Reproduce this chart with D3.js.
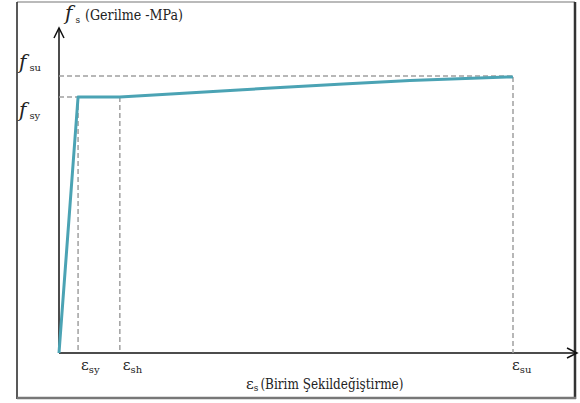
<!DOCTYPE html>
<html>
<head>
<meta charset="utf-8">
<script src="https://cdn.jsdelivr.net/npm/d3@7"></script>
<style>
  body { margin: 0; background: #fff; }
</style>
</head>
<body>
<script>
// strain (mm/mm) and stress (MPa)
var strain = [0, 0.0042, 0.0134, 0.0405, 0.0626, 0.0773, 0.1];
var stress = [0, 420, 420, 432, 441.5, 447, 453];
var epsSy = 0.0042, epsSh = 0.0134, epsSu = 0.1;
var fy = 420, fu = 453;
var xLabels = [{v: epsSy, sub: "sy"}, {v: epsSh, sub: "sh"}, {v: epsSu, sub: "su"}];
var yLabels = [{v: fu, sub: "su"}, {v: fy, sub: "sy"}];

var W = 580, H = 403;
var svg = d3.select("body").append("svg")
    .attr("width", W)
    .attr("height", H)
    .style("font-family", "DejaVu Serif");

// frame around the figure
svg.append("line").attr("x1", 17).attr("y1", 2).attr("x2", 575).attr("y2", 2)
    .attr("stroke", "#777").attr("stroke-width", 1.2);
svg.append("line").attr("x1", 17).attr("y1", 2).attr("x2", 17).attr("y2", 399)
    .attr("stroke", "#222").attr("stroke-width", 1.5);
svg.append("line").attr("x1", 575).attr("y1", 2).attr("x2", 575).attr("y2", 399)
    .attr("stroke", "#333").attr("stroke-width", 2.5);
svg.append("line").attr("x1", 17).attr("y1", 398).attr("x2", 576).attr("y2", 398)
    .attr("stroke", "#777").attr("stroke-width", 2.5);

var x0 = 59, y0 = 353;
var x = d3.scaleLinear().domain([0, 0.1]).range([x0, 513]);
var y = d3.scaleLinear().domain([0, 420]).range([y0, 97]);

// axes with open arrow heads
svg.append("line").attr("x1", x0).attr("y1", y0).attr("x2", x0).attr("y2", 28)
    .attr("stroke", "#111").attr("stroke-width", 1.5);
svg.append("path").attr("d", "M" + (x0 - 5) + ",38 L" + x0 + ",28 L" + (x0 + 5) + ",38")
    .attr("fill", "none").attr("stroke", "#111").attr("stroke-width", 1.5);
svg.append("line").attr("x1", x0).attr("y1", y0).attr("x2", 576).attr("y2", y0)
    .attr("stroke", "#111").attr("stroke-width", 1.5);
svg.append("path").attr("d", "M567," + (y0 - 5) + " L577," + y0 + " L567," + (y0 + 5))
    .attr("fill", "none").attr("stroke", "#111").attr("stroke-width", 1.5);

// dashed guide lines
var dash = svg.append("g")
    .attr("stroke", "#a0a0a0")
    .attr("stroke-width", 1.5)
    .attr("stroke-dasharray", "5,3")
    .attr("fill", "none");
dash.append("line").attr("x1", x0).attr("x2", x(epsSy)).attr("y1", y(fy)).attr("y2", y(fy));
dash.append("line").attr("x1", x0).attr("x2", x(epsSu)).attr("y1", y(fu) - 1).attr("y2", y(fu) - 1);
[epsSy, epsSh].forEach(function(e) {
    dash.append("line").attr("x1", x(e)).attr("x2", x(e)).attr("y1", y(fy)).attr("y2", y0);
});
dash.append("line").attr("x1", x(epsSu)).attr("x2", x(epsSu)).attr("y1", y(fu)).attr("y2", y0);

// stress-strain curve: straight elastic + plateau, smooth hardening part
var pts = strain.map(function(s, i) { return [s, stress[i]]; });
var line = d3.line()
    .x(function(d) { return x(d[0]); })
    .y(function(d) { return y(d[1]); });
var curve = d3.line()
    .x(function(d) { return x(d[0]); })
    .y(function(d) { return y(d[1]); })
    .curve(d3.curveMonotoneX);
svg.append("path")
    .attr("d", line(pts.slice(0, 3)) + curve(pts.slice(2)).replace(/^M[^LC]*/, ""))
    .attr("fill", "none")
    .attr("stroke", "#4ba3b4")
    .attr("stroke-width", 3)
    .attr("stroke-linejoin", "round");

// y labels
yLabels.forEach(function(d, i) {
    var by = i == 0 ? y(d.v) - 8 : y(d.v) + 20;
    var t = svg.append("text").attr("x", 19).attr("y", by).attr("fill", "#222");
    t.append("tspan").text("f").attr("font-style", "italic").attr("font-size", 20);
    t.append("tspan").text(d.sub).attr("font-size", 10).attr("dx", 3).attr("dy", 2);
});

// x labels
xLabels.forEach(function(d, i) {
    var t = svg.append("text").attr("x", x(d.v) + (i == 2 ? -1 : 3)).attr("y", 370).attr("fill", "#222");
    t.append("tspan").text("ε").attr("font-size", 15);
    t.append("tspan").text(d.sub).attr("font-size", 10).attr("dy", 3);
});

// axis titles
var ty = svg.append("text").attr("x", 65).attr("y", 20).attr("fill", "#222");
ty.append("tspan").text("f").attr("font-style", "italic").attr("font-size", 20);
ty.append("tspan").text("s").attr("font-size", 9).attr("dx", 3).attr("dy", 3);
ty.append("tspan").text("(Gerilme -MPa)").attr("font-size", 14).attr("dx", 5).attr("dy", -3)
    .attr("textLength", 98).attr("lengthAdjust", "spacingAndGlyphs");

var tx = svg.append("text").attr("x", 246).attr("y", 389).attr("fill", "#222");
tx.append("tspan").text("ε").attr("font-size", 15);
tx.append("tspan").text("s").attr("font-size", 9).attr("dy", 2);
tx.append("tspan").text("(Birim Şekildeğiştirme)").attr("font-size", 14).attr("dx", 2).attr("dy", -2)
    .attr("textLength", 143).attr("lengthAdjust", "spacingAndGlyphs");
</script>
</body>
</html>
